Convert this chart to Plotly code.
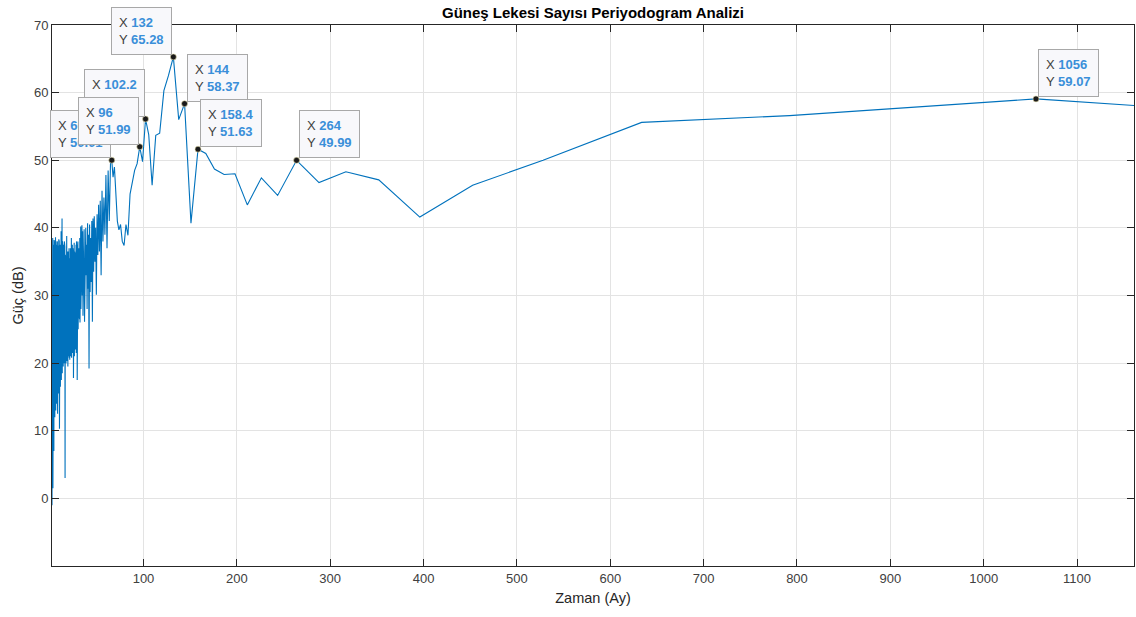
import plotly.graph_objects as go

# Period (months) and power (dB)
periods = [
    2.0, 2.25, 2.5, 2.75, 3.0, 3.25, 3.5, 3.75,
    4.0, 4.25, 4.5, 4.75, 5.0, 5.25, 5.5, 5.75,
    6.0, 6.25, 6.5, 6.75, 7.0, 7.25, 7.5, 7.75,
    8.0, 8.25, 8.5, 8.75, 9.0, 9.25, 9.5, 9.75,
    10.0, 10.25, 10.5, 10.75, 11.0, 11.25, 11.5, 11.75,
    12.0, 12.25, 12.5, 12.75, 13.0, 13.25, 13.5, 13.75,
    14.0, 14.25, 14.5, 14.75, 15.0, 15.25, 15.5, 15.75,
    16.0, 16.25, 16.5, 16.75, 17.0, 17.25, 17.5, 17.75,
    18.0, 18.25, 18.5, 18.75, 19.0, 19.25, 19.5, 19.75,
    20.0, 20.25, 20.5, 20.75, 21.0, 21.25, 21.5, 21.75,
    22.0, 22.25, 22.5, 22.75, 23.0, 23.25, 23.5, 23.75,
    24.0, 24.25, 24.5, 24.75, 25.0, 25.25, 25.5, 25.75,
    26.0, 26.25, 26.5, 26.75, 27.0, 27.25, 27.5, 27.75,
    28.0, 28.25, 28.5, 28.75, 29.0, 29.25, 29.5, 29.75,
    30.0, 30.25, 30.5, 30.75, 31.0, 31.25, 31.5, 31.75,
    32.0, 32.25, 32.5, 32.75, 33.0,
    33.35, 33.70, 34.06, 34.43, 34.81, 35.2, 35.6, 36.0, 36.41, 36.84, 37.27, 37.71,
    38.17, 38.63, 39.11, 39.6, 40.1, 40.62, 41.14, 41.68, 42.24, 42.81, 43.4, 44.0,
    44.62, 45.26, 45.91, 46.59, 47.28, 48.0, 48.74, 49.5, 50.29, 51.1, 51.93, 52.8,
    53.69, 54.62, 55.58, 56.57, 57.6, 58.67, 59.77, 60.92, 62.12, 63.36, 64.65, 66.0,
    67.4, 68.87, 70.4, 72.0, 73.67, 75.43, 77.27, 79.2, 81.23, 83.37, 85.62, 88.0,
    90.51, 93.18, 96.0, 99.0, 102.19, 105.6, 109.24, 113.14, 117.33, 121.85, 126.72,
    132.0, 137.74, 144.0, 150.86, 158.4, 166.74, 176.0, 186.35, 198.0, 211.2, 226.29,
    243.69, 264.0, 288.0, 316.8, 352.0, 396.0, 452.57, 528.0, 633.6, 792.0, 1056.0, 1584.0,
]
power_db = [
    -1.0, 36.0, 6.0, 38.5, 1.5, 37.0, 9.0, 37.5,
    7.0, 38.2, 12.5, 37.8, 12.0, 36.8, 14.5, 38.6,
    13.0, 37.5, 15.0, 37.2, 14.0, 38.0, 16.0, 37.9,
    12.5, 36.9, 15.5, 37.4, 15.5, 38.3, 17.0, 38.0,
    10.3, 37.0, 16.0, 37.5, 16.5, 38.5, 18.0, 39.5,
    17.5, 37.8, 19.0, 41.4, 18.5, 38.0, 19.5, 37.0,
    19.5, 37.5, 20.0, 36.5, 20.0, 38.0, 20.5, 37.2,
    3.0, 36.0, 20.0, 35.5, 20.0, 37.0, 21.0, 38.8,
    20.3, 36.5, 20.5, 35.0, 19.5, 36.5, 21.0, 36.0,
    21.0, 37.0, 20.8, 35.5, 20.5, 36.5, 21.5, 37.0,
    21.0, 37.5, 21.2, 38.5, 20.8, 36.8, 21.5, 37.5,
    21.5, 37.0, 22.0, 36.5, 17.8, 37.2, 22.0, 37.8,
    21.0, 36.5, 22.5, 36.0, 22.0, 37.0, 23.0, 37.5,
    21.5, 38.0, 23.5, 37.0, 17.5, 37.5, 24.5, 38.0,
    25.0, 36.5, 26.0, 37.0, 27.0, 38.0, 26.5, 38.5,
    26.0, 39.0, 27.5, 40.2, 28.0,
    36.0, 28.5, 40.4, 30.0, 39.5, 27.0, 38.0, 29.5, 39.8, 26.1, 35.5, 30.0,
    40.0, 33.0, 37.5, 28.0, 40.7, 31.0, 39.0, 19.2, 40.5, 30.5, 38.5, 32.0,
    41.0, 26.1, 41.4, 33.5, 41.7, 35.0, 40.0, 30.1, 42.0, 36.0, 43.4, 36.5,
    44.0, 33.0, 45.5, 38.0, 44.5, 39.0, 47.8, 37.0, 48.5, 41.0, 49.5, 50.01,
    47.5, 49.0, 44.0, 41.0, 39.7, 40.5, 38.0, 37.4, 40.5, 38.9, 45.0, 47.0,
    48.5, 49.5, 51.99, 49.8, 56.1, 53.8, 46.3, 53.7, 54.0, 60.3, 62.5,
    65.28, 56.0, 58.37, 40.7, 51.63, 51.0, 48.7, 47.9, 48.0, 43.4, 47.4,
    44.8, 49.99, 46.7, 48.3, 47.1, 41.6, 46.3, 50.0, 55.6, 56.6, 59.07, 54.2,
]

# Data tips shown on the chart (drawing order: later ones on top)
tip_x = [66.0, 102.19, 96.0, 132.0, 144.0, 158.4, 264.0, 1056.0]
tip_y = [50.01, 56.1, 51.99, 65.28, 58.37, 51.63, 49.99, 59.07]
tip_xlabel = ["66", "102.2", "96", "132", "144", "158.4", "264", "1056"]
tip_ylabel = ["50.01", "56.1", "51.99", "65.28", "58.37", "51.63", "49.99", "59.07"]
tip_side = ["left", "left", "left", "left", "right", "right", "right", "right"]

x_ticks = [100, 200, 300, 400, 500, 600, 700, 800, 900, 1000, 1100]
y_ticks = [0, 10, 20, 30, 40, 50, 60, 70]

FONT = "Liberation Sans, Arial, Helvetica, sans-serif"
AX = "#262626"
GRID = "#e3e3e3"
VALC = "#3a8fd9"

fig = go.Figure()
fig.add_trace(go.Scatter(
    x=periods, y=power_db, mode="lines",
    line=dict(color="#0072BD", width=1.1),
    hoverinfo="skip", showlegend=False,
))
fig.add_trace(go.Scatter(
    x=tip_x, y=tip_y, mode="markers",
    marker=dict(color="#1a1a1a", size=6, line=dict(color="#e8e0b0", width=0.6)),
    hoverinfo="skip", showlegend=False,
))

for xv, yv, xl, yl, side in zip(tip_x, tip_y, tip_xlabel, tip_ylabel, tip_side):
    txt = (f"<span style='color:#404040'>X</span> <span style='color:{VALC}'><b>{xl}</b></span>"
           f"<br><span style='color:#404040'>Y</span> <span style='color:{VALC}'><b>{yl}</b></span>")
    fig.add_annotation(
        x=xv, y=yv, xref="x", yref="y", text=txt, showarrow=False,
        xanchor="right" if side == "left" else "left", yanchor="bottom",
        xshift=-1 if side == "left" else 2, yshift=2,
        align="left", font=dict(family=FONT, size=13),
        bgcolor="#f8f8fb", bordercolor="#a8a8a8", borderwidth=1, borderpad=7,
    )

fig.update_layout(
    width=1136, height=617,
    margin=dict(l=52, r=2, t=25, b=51, autoexpand=False),
    paper_bgcolor="white", plot_bgcolor="white",
    font=dict(family=FONT, color=AX, size=13),
    title=dict(text="<b>Güneş Lekesi Sayısı Periyodogram Analizi</b>",
               x=593 / 1136, xanchor="center", y=1 - 13 / 617, yanchor="middle",
               font=dict(family=FONT, size=15, color="#000000")),
    showlegend=False,
)
fig.update_xaxes(
    range=[2, 1161], tickvals=x_ticks, ticktext=[str(v) for v in x_ticks],
    ticks="inside", ticklen=7, tickwidth=1, tickcolor=AX,
    showline=True, linecolor=AX, linewidth=1, mirror="allticks",
    showgrid=True, gridcolor=GRID, gridwidth=1, zeroline=False,
    tickfont=dict(family=FONT, size=13, color="#404040"),
    title=dict(text="Zaman (Ay)", standoff=8, font=dict(family=FONT, size=14.5, color=AX)),
    automargin=False,
)
fig.update_yaxes(
    range=[-10, 70], tickvals=y_ticks, ticktext=[str(v) for v in y_ticks],
    ticks="inside", ticklen=7, tickwidth=1, tickcolor=AX,
    showline=True, linecolor=AX, linewidth=1, mirror="allticks",
    showgrid=True, gridcolor=GRID, gridwidth=1, zeroline=False,
    tickfont=dict(family=FONT, size=13, color="#404040"),
    title=dict(text="Güç (dB)", standoff=6, font=dict(family=FONT, size=14.5, color=AX)),
    automargin=False,
)

fig.write_html("out.html", config={"displayModeBar": False})
